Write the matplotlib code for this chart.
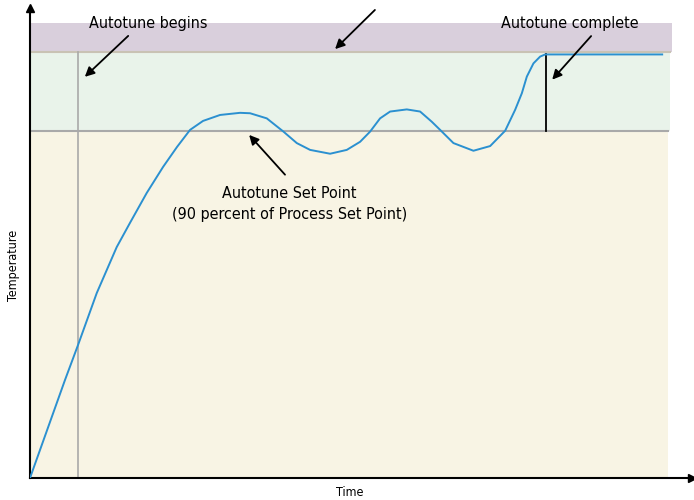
import matplotlib.pyplot as plt
from matplotlib.patches import Rectangle

plt.rcParams['font.family'] = ['DejaVu Sans']
plt.rcParams['font.stretch'] = 'condensed'

# time / temperature in arbitrary units (process set point = 100)
time = [0, 5.83, 8.0, 11.12, 14.45, 16.67, 19.45, 22.17, 24.5, 26.67, 28.83, 31.67,
        35.0, 36.67, 39.45, 42.22, 44.45, 46.67, 50.0, 52.78, 55.0, 56.67, 58.33,
        60.0, 62.78, 65.0, 66.95, 68.62, 70.55, 73.88, 76.67, 79.17, 80.83, 81.95,
        82.78, 83.88, 85.0, 85.83, 105.33]
temp = [0, 23.0, 31.2, 43.4, 54.2, 59.9, 66.9, 73.0, 77.7, 81.7, 83.8, 85.2,
        85.7, 85.6, 84.4, 81.3, 78.6, 77.0, 76.1, 77.0, 78.9, 81.3, 84.4,
        86.0, 86.5, 86.0, 83.6, 81.3, 78.6, 76.8, 77.9, 81.5, 86.4, 90.3,
        94.2, 97.3, 98.9, 99.4, 99.4]

process_sp = 100
autotune_sp = 81.5
band_top = 106.8
autotune_start = 8
autotune_end = 86

fig = plt.figure(figsize=(6.94, 5), dpi=100)
ax = fig.add_axes([30 / 694, 22 / 500, 662 / 694, 470 / 500])
ax.set_xlim(0, 110.3)
ax.set_ylim(0, 110.3)

ax.add_patch(Rectangle((0, process_sp), 107, band_top - process_sp, color='#d9cfdc', lw=0, zorder=0))
ax.add_patch(Rectangle((0, autotune_sp), 106.7, process_sp - autotune_sp, color='#e9f3ea', lw=0, zorder=0))
ax.add_patch(Rectangle((0, 0), 106.3, autotune_sp, color='#f8f4e4', lw=0, zorder=0))

ax.plot([0, 106.7], [process_sp, process_sp], color='#c9c2b4', lw=1.5, zorder=1)
ax.plot([0, 106.3], [autotune_sp, autotune_sp], color='#a9a9a9', lw=1.5, zorder=1)
ax.plot([autotune_start, autotune_start], [0, process_sp], color='#a9a9a9', lw=1.2, zorder=1)
ax.plot([autotune_end, autotune_end], [autotune_sp, 99.4], color='black', lw=1.3, zorder=2)

ax.plot(time, temp, color='#2b90d0', lw=1.4, zorder=3, solid_joinstyle='round')

for s in ['top', 'right']:
    ax.spines[s].set_visible(False)
for s in ['left', 'bottom']:
    ax.spines[s].set_linewidth(1.5)
ax.set_xticks([])
ax.set_yticks([])
ax.plot(1, 0, '>k', ms=6, transform=ax.transAxes, clip_on=False)
ax.plot(0, 1, '^k', ms=6, transform=ax.transAxes, clip_on=False)

arrow = dict(arrowstyle='-|>', color='black', lw=1.3, mutation_scale=14)
ax.annotate('', xy=(8.8, 93.7), xytext=(16.7, 104.2), arrowprops=arrow)
ax.annotate('', xy=(50.5, 100.2), xytext=(57.8, 110.3), arrowprops=arrow, annotation_clip=False)
ax.annotate('', xy=(86.7, 93.0), xytext=(93.8, 104.2), arrowprops=arrow)
ax.annotate('', xy=(36.2, 81.0), xytext=(42.8, 70.7), arrowprops=arrow)

fs = 11.5
ax.text(19.7, 106.6, 'Autotune begins', fontsize=fs, ha='center', va='center')
ax.text(90, 106.6, 'Autotune complete', fontsize=fs, ha='center', va='center')
ax.text(43.2, 66.8, 'Autotune Set Point', fontsize=fs, ha='center', va='center')
ax.text(43.2, 61.8, '(90 percent of Process Set Point)', fontsize=fs, ha='center', va='center')

fig.text(14 / 694, 1 - 265 / 500, 'Temperature', rotation=90, fontsize=9, ha='center', va='center')
fig.text(350 / 694, 1 - 493 / 500, 'Time', fontsize=9, ha='center', va='center')

fig.savefig('out.png', dpi=100)
